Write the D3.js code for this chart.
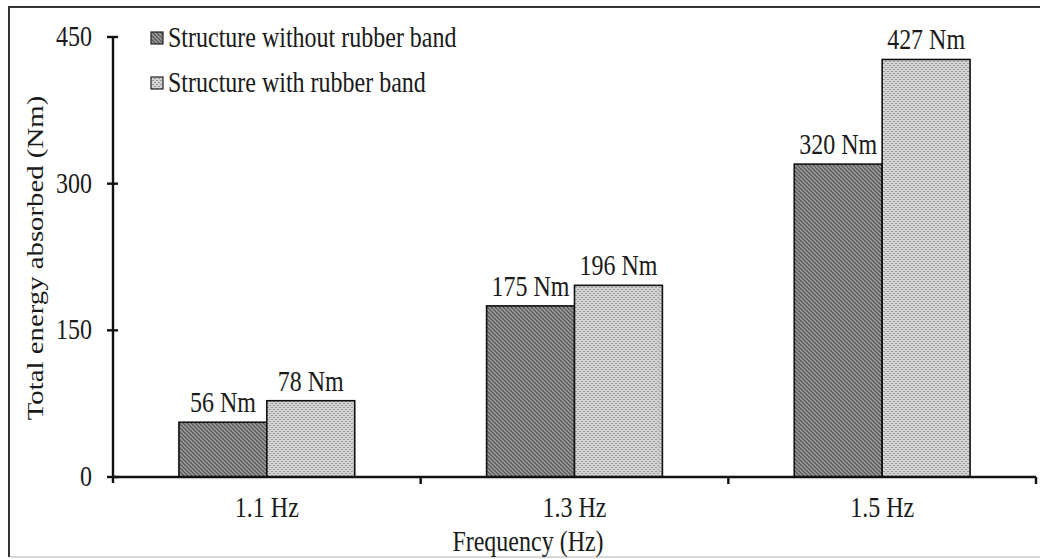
<!DOCTYPE html>
<html>
<head>
<meta charset="utf-8">
<script src="https://cdn.jsdelivr.net/npm/d3@7"></script>
<style>
  html, body { margin: 0; padding: 0; background: #fff; }
  svg { display: block; }
  text { font-family: "Liberation Serif", "Times New Roman", serif; fill: #1a1a1a; }
</style>
</head>
<body>
<svg id="chart" width="1040" height="559"></svg>
<script>
// Data
const categories = ["1.1 Hz", "1.3 Hz", "1.5 Hz"];
const seriesNames = ["Structure without rubber band", "Structure with rubber band"];
const withoutBand = [56, 175, 320];
const withBand = [78, 196, 427];
const yTicks = [0, 150, 300, 450];

const svg = d3.select("#chart");
const W = 1040, H = 559;
const margin = { left: 113, right: 4, top: 37, bottom: 82 };
const plotW = W - margin.left - margin.right;
const plotH = H - margin.top - margin.bottom;
const FS = 24;        // base font size
const STRETCH = 1.2;  // glyphs are drawn taller than wide

// Places a text element at (x, y) with taller-than-wide glyphs
function label(parent, x, y, str, anchor) {
  return parent.append("text")
    .attr("transform", `translate(${x},${y}) scale(1,${STRETCH})`)
    .attr("text-anchor", anchor || "start")
    .attr("font-size", FS)
    .text(str);
}

// Hatched fills for the two series
const defs = svg.append("defs");
const pDark = defs.append("pattern").attr("id", "pat-dark")
  .attr("patternUnits", "userSpaceOnUse").attr("width", 4).attr("height", 4);
pDark.append("rect").attr("width", 4).attr("height", 4).attr("fill", "#9a9a9a");
pDark.append("path").attr("d", "M-1,-1 L5,5 M3,-1 L5,1 M-1,3 L1,5")
  .attr("stroke", "#505050").attr("stroke-width", 1.2);
const pLight = defs.append("pattern").attr("id", "pat-light")
  .attr("patternUnits", "userSpaceOnUse").attr("width", 4).attr("height", 4);
pLight.append("rect").attr("width", 4).attr("height", 4).attr("fill", "#d4d4d4");
pLight.append("rect").attr("x", 0).attr("y", 0).attr("width", 2).attr("height", 1).attr("fill", "#9a9a9a");
pLight.append("rect").attr("x", 2).attr("y", 2).attr("width", 2).attr("height", 1).attr("fill", "#9a9a9a");
const fills = ["url(#pat-dark)", "url(#pat-light)"];

// Outer frame
svg.append("path").attr("d", `M9,${H - 2} L9,7 L${W},7`)
  .attr("fill", "none").attr("stroke", "#333").attr("stroke-width", 2);
svg.append("line").attr("x1", 10).attr("x2", W).attr("y1", H - 2).attr("y2", H - 2)
  .attr("stroke", "#ccc").attr("stroke-width", 1.5);

const g = svg.append("g").attr("transform", `translate(${margin.left},${margin.top})`);

const x0 = d3.scaleBand().domain(categories).range([0, plotW]).paddingInner(0).paddingOuter(0);
const x1 = d3.scaleBand().domain([0, 1]).range([0, x0.bandwidth()]).paddingInner(0).paddingOuter(0.75);
const y = d3.scaleLinear().domain([0, 450]).range([plotH, 0]);

// Bars with value labels
const series = [withoutBand, withBand];
categories.forEach((c, i) => {
  series.forEach((vals, s) => {
    const bx = x0(c) + x1(s);
    g.append("rect")
      .attr("x", bx).attr("y", y(vals[i]))
      .attr("width", x1.bandwidth()).attr("height", y(0) - y(vals[i]))
      .attr("fill", fills[s]).attr("stroke", "#111").attr("stroke-width", 1.6);
    label(g, bx + x1.bandwidth() / 2, y(vals[i]) - 10, vals[i] + " Nm", "middle");
  });
});

// Y axis
g.append("line").attr("x1", 0).attr("x2", 0).attr("y1", y(450)).attr("y2", y(0) + 6)
  .attr("stroke", "#111").attr("stroke-width", 2.4);
yTicks.forEach(t => {
  g.append("line").attr("x1", -6).attr("x2", 5).attr("y1", y(t)).attr("y2", y(t))
    .attr("stroke", "#111").attr("stroke-width", 2.4);
  label(g, -21, y(t) + 9, String(t), "end");
});

// X axis
g.append("line").attr("x1", 0).attr("x2", plotW).attr("y1", y(0)).attr("y2", y(0))
  .attr("stroke", "#111").attr("stroke-width", 2.4);
categories.forEach(c => {
  const bx = x0(c) + x0.bandwidth();
  g.append("line").attr("x1", bx).attr("x2", bx).attr("y1", y(0)).attr("y2", y(0) + 7)
    .attr("stroke", "#111").attr("stroke-width", 2.4);
  label(g, x0(c) + x0.bandwidth() / 2, y(0) + 40, c, "middle");
});

// Axis titles
label(svg, 528, 551, "Frequency (Hz)", "middle");
svg.append("text")
  .attr("transform", `translate(43,258) rotate(-90) scale(${STRETCH},1)`)
  .attr("text-anchor", "middle").attr("font-size", FS)
  .text("Total energy absorbed (Nm)");

// Legend
seriesNames.forEach((name, s) => {
  const ly = 32 + s * 45;
  svg.append("rect").attr("x", 151).attr("y", ly).attr("width", 12).attr("height", 12)
    .attr("fill", fills[s]).attr("stroke", "#222").attr("stroke-width", 1.2);
  label(svg, 168, ly + 15, name, "start");
});
</script>
</body>
</html>
